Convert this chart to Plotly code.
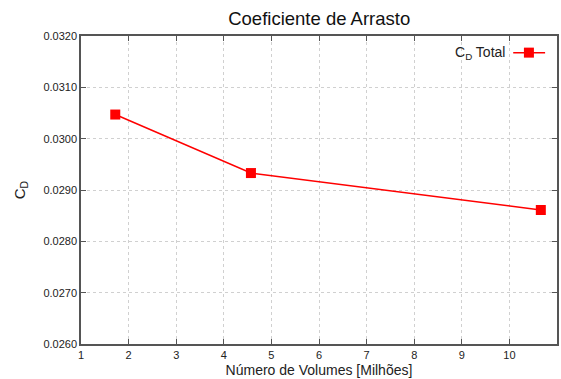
import plotly.graph_objects as go

# Mesh refinement study: drag coefficient vs. number of cells (millions)
volumes_millions = [1.72, 4.57, 10.66]
cd_total = [0.03047, 0.02933, 0.02861]

x_ticks = list(range(1, 12))
y_ticks = [0.026, 0.027, 0.028, 0.029, 0.030, 0.031, 0.032]

red = "#ff0000"
axis_color = "#555555"
font_family = "Liberation Sans, Arial, sans-serif"

fig = go.Figure()
fig.add_trace(go.Scatter(
    x=volumes_millions, y=cd_total, mode="lines+markers",
    name="C<sub>D</sub> Total",
    line=dict(color=red, width=1.5),
    marker=dict(symbol="square", size=10, color=red),
    showlegend=False,
))

axis_common = dict(
    showline=True, linecolor=axis_color, linewidth=1.5, mirror="ticks",
    ticks="inside", ticklen=5, tickcolor=axis_color, tickwidth=1,
    showgrid=True, gridcolor="#d0d0d0", griddash="dot", gridwidth=1,
    zeroline=False,
    tickfont=dict(family=font_family, size=11, color="#222222"),
)

fig.update_xaxes(
    range=[1, 11], tickvals=x_ticks, ticktext=[str(v) for v in x_ticks],
    title=dict(text="Número de Volumes [Milhões]", standoff=5,
               font=dict(family=font_family, size=14, color="#222222")),
    **axis_common,
)
fig.update_yaxes(
    range=[0.026, 0.032], tickvals=y_ticks, tickformat=".4f",
    title=dict(text="C<sub>D</sub>", standoff=14,
               font=dict(family=font_family, size=15, color="#222222")),
    **axis_common,
)

# Legend drawn gnuplot-style: label on the left, sample line/marker on the right
legend_y = 0.946
fig.add_annotation(
    xref="paper", yref="paper", x=0.895, y=legend_y, xanchor="right", yanchor="middle",
    text="C<sub>D</sub> Total", showarrow=False,
    font=dict(family=font_family, size=14, color="#222222"),
)
fig.add_shape(type="line", xref="paper", yref="paper",
              x0=0.908, x1=0.975, y0=legend_y, y1=legend_y,
              line=dict(color=red, width=1.5))
fig.add_trace(go.Scatter(
    x=[0.941], y=[legend_y], xaxis="x2", yaxis="y2", mode="markers",
    marker=dict(symbol="square", size=10, color=red),
    showlegend=False, hoverinfo="skip",
))

fig.update_layout(
    width=561, height=379,
    margin=dict(l=81, r=2, t=36, b=35),
    paper_bgcolor="white", plot_bgcolor="white",
    title=dict(text="Coeficiente de Arrasto", x=0.569, xanchor="center", y=0.952,
               yanchor="middle",
               font=dict(family=font_family, size=18.5, color="#111111")),
    xaxis2=dict(overlaying="x", range=[0, 1], visible=False),
    yaxis2=dict(overlaying="y", range=[0, 1], visible=False),
    showlegend=False,
)

fig.write_html("out.html")
